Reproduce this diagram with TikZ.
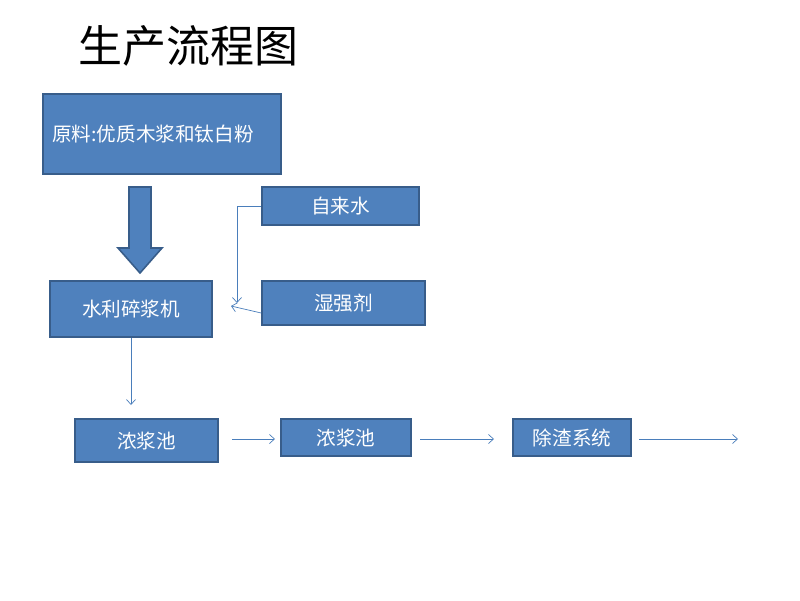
\documentclass[tikz,border=0pt]{standalone}
\usepackage{fontspec}
\newfontfamily\cjk{Noto Sans CJK SC}
\usetikzlibrary{arrows.meta}
\definecolor{boxfill}{HTML}{4F81BD}
\definecolor{boxline}{HTML}{385D8A}
\definecolor{linkc}{HTML}{4A7EBB}
\begin{document}
\begin{tikzpicture}[x=1pt,y=-1pt,
  box/.style={draw=boxline,line width=1.6pt,fill=boxfill,text=white,font=\cjk\fontsize{19.6}{22}\selectfont,inner sep=0pt},
  link/.style={draw=linkc,line width=0.7pt,-{Straight Barb[length=5pt,width=9pt]}}]
\useasboundingbox (0,0) rectangle (800,600);
\node[anchor=west,font=\cjk\fontsize{44}{50}\selectfont,inner sep=0pt] (title) at (78,46) {生产流程图};
% boxes
\path[box] (43,94) rectangle (281,174);
\node[anchor=west,text=white,font=\cjk\fontsize{19.6}{22}\selectfont,inner sep=0pt] (raw) at (52,134) {原料:优质木浆和钛白粉};
\node[box,minimum width=157pt,minimum height=38pt] (water) at (340.5,206) {自来水};
\node[box,minimum width=163pt,minimum height=44pt] (agent) at (343.5,303) {湿强剂};
\node[box,minimum width=162pt,minimum height=56pt] (pulper) at (131,309) {水利碎浆机};
\node[box,minimum width=143pt,minimum height=43pt] (pool1) at (146.5,440.5) {浓浆池};
\node[box,minimum width=130pt,minimum height=37pt] (pool2) at (346,437.5) {浓浆池};
\node[box,minimum width=118pt,minimum height=37pt] (slag) at (572,437.5) {除渣系统};
% block arrow
\path[draw=boxline,line width=1.6pt,fill=boxfill] (129,187) -- (151,187) -- (151,248) -- (162,248) -- (140,273) -- (118,248) -- (129,248) -- cycle;
% connectors
\coordinate (wt) at (237,303);
\draw[link] (water.west) -- (237,206) -- (wt);
\coordinate (at) at (231,306);
\draw[link] (agent.west |- 0,313) -- (at);
\coordinate (pt) at (131,405);
\draw[link] (pulper.south) -- (pt);
\coordinate (a1) at (232,439);
\coordinate (a2) at (275,439);
\draw[link] (a1) -- (a2);
\coordinate (b1) at (420,439);
\coordinate (b2) at (494,439);
\draw[link] (b1) -- (b2);
\coordinate (c1) at (639,439);
\coordinate (c2) at (738,439);
\draw[link] (c1) -- (c2);
\end{tikzpicture}
\end{document}
